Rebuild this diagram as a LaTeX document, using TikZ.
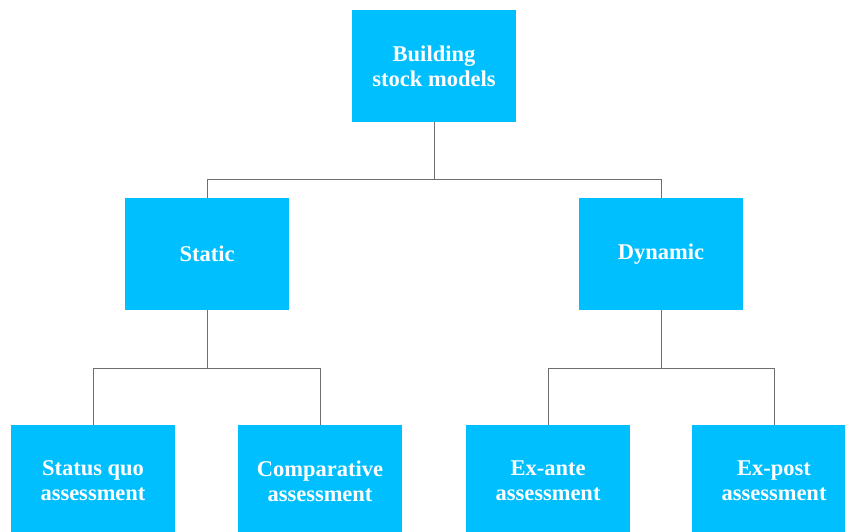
\documentclass[tikz,border=0pt]{standalone}
\usepackage{fontspec}
\setmainfont{Liberation Serif}
\definecolor{boxblue}{RGB}{0,191,255}
\definecolor{linegray}{RGB}{110,110,110}
\begin{document}
\begin{tikzpicture}[x=1pt,y=-1pt,
  box/.style={fill=boxblue,draw=none,minimum width=164pt,minimum height=112pt,inner sep=0pt,
    text=white,align=center,font=\fontsize{22.5}{25}\selectfont\bfseries},
  conn/.style={draw=linegray,line width=1pt}]
\useasboundingbox (0,0) rectangle (845,532);
\clip (0,0) rectangle (845,532);
\node[box] (top) at (434,66) {Building\\stock models};
\node[box] (static) at (207,254) {Static};
\node[box] (dynamic) at (661,254) {Dynamic};
\node[box] (sq) at (93,481) {Status quo\\assessment};
\node[box] (comp) at (320,481) {Comparative\\assessment};
\node[box] (exante) at (548,481) {Ex-ante\\assessment};
\node[box] (expost) at (774,481) {Ex-post\\assessment};
\draw[conn] (top.south) -- ++(0,57) -| (static.north);
\draw[conn] (top.south) -- ++(0,57) -| (dynamic.north);
\draw[conn] (static.south) -- ++(0,58) -| (sq.north);
\draw[conn] (static.south) -- ++(0,58) -| (comp.north);
\draw[conn] (dynamic.south) -- ++(0,58) -| (exante.north);
\draw[conn] (dynamic.south) -- ++(0,58) -| (expost.north);
\end{tikzpicture}
\end{document}
